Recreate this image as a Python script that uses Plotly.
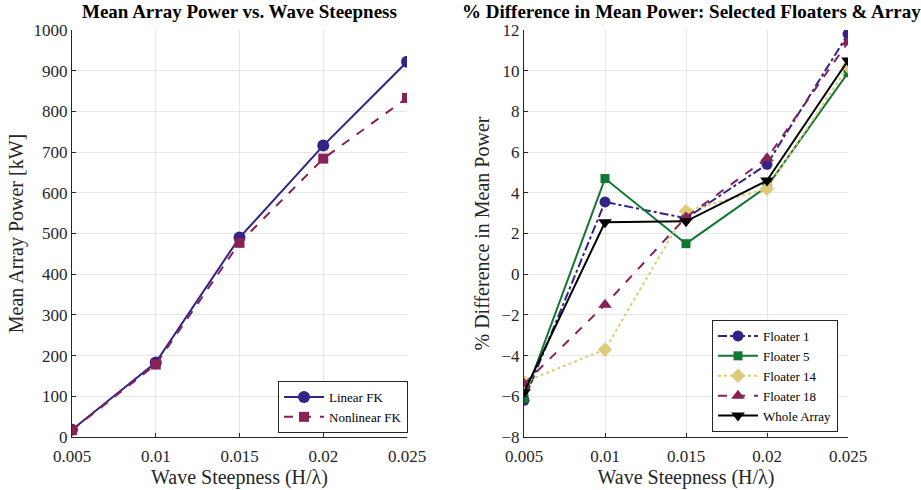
import plotly.graph_objects as go
from plotly.subplots import make_subplots

steep = [0.005, 0.01, 0.015, 0.02, 0.025]
tick_labels = ["0.005", "0.01", "0.015", "0.02", "0.025"]

linear_fk = [18, 183, 490, 716, 922]
nonlinear_fk = [17, 178, 477, 684, 833]

floater1 = [-6.2, 3.55, 2.75, 5.4, 11.8]
floater5 = [-6.1, 4.7, 1.5, 4.3, 9.9]
floater14 = [-5.3, -3.7, 3.1, 4.2, 10.2]
floater18 = [-5.4, -1.5, 2.8, 5.7, 11.4]
whole_array = [-5.8, 2.55, 2.6, 4.6, 10.5]

C_BLUE = "#332288"
C_GREEN = "#117733"
C_SAND = "#DDCC77"
C_WINE = "#882255"
C_BLACK = "#000000"

FONT = "Liberation Serif"
TXT = "#262626"

fig = make_subplots(rows=1, cols=2)

fig.add_trace(go.Scatter(x=steep, y=linear_fk, name="Linear FK", mode="lines+markers",
                         line=dict(color=C_BLUE, width=2), marker=dict(symbol="circle", size=12, color=C_BLUE),
                         legend="legend"), row=1, col=1)
fig.add_trace(go.Scatter(x=steep, y=nonlinear_fk, name="Nonlinear FK", mode="lines+markers",
                         line=dict(color=C_WINE, width=2, dash="dash"), marker=dict(symbol="square", size=10, color=C_WINE),
                         legend="legend"), row=1, col=1)

right = [
    ("Floater 1", floater1, C_BLUE, "dashdot", "circle", 11),
    ("Floater 5", floater5, C_GREEN, "solid", "square", 9),
    ("Floater 14", floater14, C_SAND, "dot", "diamond", 11),
    ("Floater 18", floater18, C_WINE, "dash", "triangle-up", 12),
    ("Whole Array", whole_array, C_BLACK, "solid", "triangle-down", 12),
]
for name, vals, col, dash, sym, sz in right:
    fig.add_trace(go.Scatter(x=steep, y=vals, name=name, mode="lines+markers",
                             line=dict(color=col, width=2, dash=dash),
                             marker=dict(symbol=sym, size=sz, color=col),
                             legend="legend2"), row=1, col=2)

axis_common = dict(showgrid=True, gridcolor="#e6e6e6", gridwidth=1, showline=True, linecolor=TXT,
                   linewidth=1, ticks="inside", ticklen=4, tickcolor=TXT, zeroline=False, automargin=False,
                   tickfont=dict(family=FONT, size=17, color=TXT), mirror=False)

fig.update_xaxes(**axis_common, range=[0.005, 0.025], tickvals=steep, ticktext=tick_labels,
                 ticklabelstandoff=4,
                 title=dict(text="Wave Steepness (H/λ)", font=dict(family=FONT, size=20, color=TXT), standoff=2))
fig.update_xaxes(domain=[72 / 921, 407 / 921], row=1, col=1)
fig.update_xaxes(domain=[524 / 921, 848 / 921], row=1, col=2)

fig.update_yaxes(**axis_common)
fig.update_yaxes(domain=[1 - 437 / 490, 1 - 30 / 490])
fig.update_yaxes(range=[0, 1000], dtick=100, row=1, col=1,
                 title=dict(text="Mean Array Power [kW]", font=dict(family=FONT, size=20, color=TXT), standoff=4))
fig.update_yaxes(range=[-8, 12], dtick=2, row=1, col=2,
                 title=dict(text="% Difference in Mean Power", font=dict(family=FONT, size=20, color=TXT), standoff=6))

fig.add_annotation(text="<b>Mean Array Power vs. Wave Steepness</b>", xref="paper", yref="paper",
                   x=(72 + 407) / 2 / 921, y=1 - 12 / 490, xanchor="center", yanchor="middle", showarrow=False,
                   font=dict(family=FONT, size=19, color="black"))
fig.add_annotation(text="<b>% Difference in Mean Power: Selected Floaters & Array</b>", xref="paper", yref="paper",
                   x=691 / 921, y=1 - 12 / 490, xanchor="center", yanchor="middle", showarrow=False,
                   font=dict(family=FONT, size=19, color="black"))

legend_style = dict(bgcolor="white", bordercolor=TXT, borderwidth=1,
                    font=dict(family=FONT, size=13, color="black"), tracegroupgap=0, itemwidth=40)

fig.update_layout(
    width=921, height=490,
    margin=dict(l=0, r=0, t=0, b=0),
    font=dict(family=FONT, color=TXT),
    paper_bgcolor="white", plot_bgcolor="white",
    showlegend=True,
    legend=dict(**legend_style, x=408 / 921, y=1 - 433 / 490, xanchor="right", yanchor="bottom", xref="paper", yref="paper"),
    legend2=dict(**legend_style, x=838 / 921, y=1 - 432 / 490, xanchor="right", yanchor="bottom", xref="paper", yref="paper"),
)

fig.write_html("out.html")
